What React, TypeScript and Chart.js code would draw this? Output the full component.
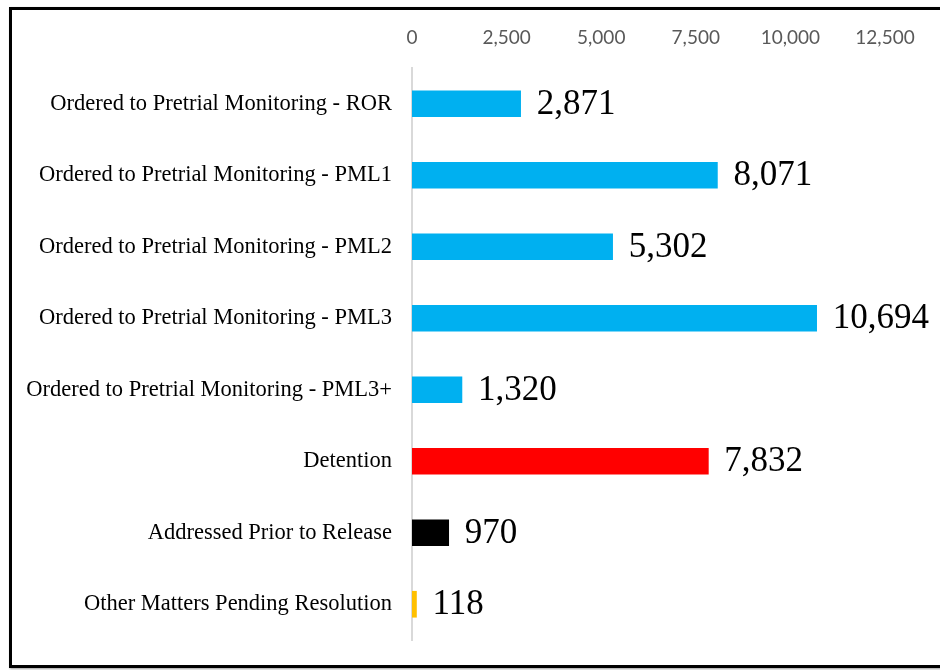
import React, { useEffect, useRef } from "react";
import { Chart, registerables } from "chart.js";

Chart.register(...registerables);

const categories = [
  "Ordered to Pretrial Monitoring - ROR",
  "Ordered to Pretrial Monitoring - PML1",
  "Ordered to Pretrial Monitoring - PML2",
  "Ordered to Pretrial Monitoring - PML3",
  "Ordered to Pretrial Monitoring - PML3+",
  "Detention",
  "Addressed Prior to Release",
  "Other Matters Pending Resolution",
];
const values = [2871, 8071, 5302, 10694, 1320, 7832, 970, 118];
const barColors = [
  "#00B0F0",
  "#00B0F0",
  "#00B0F0",
  "#00B0F0",
  "#00B0F0",
  "#FF0000",
  "#000000",
  "#FFC000",
];
const axisMin = 0;
const axisMax = 12500;
const axisStep = 2500;

const fmt = (v: number) => Number(v).toLocaleString("en-US");

const valueLabels = {
  id: "valueLabels",
  afterDatasetsDraw(chart: any) {
    const ctx = chart.ctx;
    const meta = chart.getDatasetMeta(0);
    ctx.save();
    ctx.font = '35px "Liberation Serif"';
    ctx.fillStyle = "#000000";
    ctx.textAlign = "left";
    ctx.textBaseline = "middle";
    meta.data.forEach((bar: any, i: number) => {
      ctx.fillText(fmt(values[i]), bar.x + 16, bar.y + 1);
    });
    ctx.restore();
  },
};

export default function App() {
  const ref = useRef<HTMLCanvasElement | null>(null);
  useEffect(() => {
    if (!ref.current) return;
    const chart = new Chart(ref.current, {
      type: "bar",
      data: {
        labels: categories,
        datasets: [
          {
            data: values,
            backgroundColor: barColors,
            borderWidth: 0,
            barThickness: 26,
          },
        ],
      },
      options: {
        indexAxis: "y",
        animation: false,
        responsive: false,
        devicePixelRatio: 1,
        layout: { padding: { left: 0, right: 55, top: 0, bottom: 30 } },
        plugins: {
          legend: { display: false },
          tooltip: { enabled: false },
        },
        scales: {
          x: {
            position: "top",
            min: axisMin,
            max: axisMax,
            grid: { display: false, drawTicks: false },
            border: { display: false },
            ticks: {
              stepSize: axisStep,
              padding: 19,
              color: "#595959",
              font: { family: "Lato", size: 19 },
              callback: (v: any) => fmt(v),
            },
            afterFit: (s: any) => {
              s.height = 68;
              s.paddingLeft = 0;
              s.paddingRight = 0;
            },
          },
          y: {
            grid: { display: false, drawTicks: false },
            border: { display: true, color: "#d9d9d9", width: 2 },
            ticks: {
              autoSkip: false,
              padding: 20,
              color: "#000000",
              font: { family: "Liberation Serif", size: 22.5 },
            },
            afterFit: (s: any) => {
              s.width = 412;
              s.paddingTop = 0;
              s.paddingBottom = 0;
            },
          },
        },
      },
      plugins: [valueLabels],
    });
    return () => chart.destroy();
  }, []);

  return (
    <div
      style={{
        position: "fixed",
        left: 0,
        top: 0,
        width: 940,
        height: 670,
        overflow: "hidden",
        background: "#ffffff",
      }}
    >
      <div
        style={{
          position: "absolute",
          left: 9,
          top: 7,
          width: 960,
          height: 661,
          boxSizing: "border-box",
          border: "3px solid #000000",
          boxShadow: "1px 1px 2px rgba(0,0,0,0.4)",
        }}
      />
      <canvas
        ref={ref}
        width={940}
        height={670}
        style={{ position: "absolute", left: 0, top: 0 }}
      />
    </div>
  );
}
